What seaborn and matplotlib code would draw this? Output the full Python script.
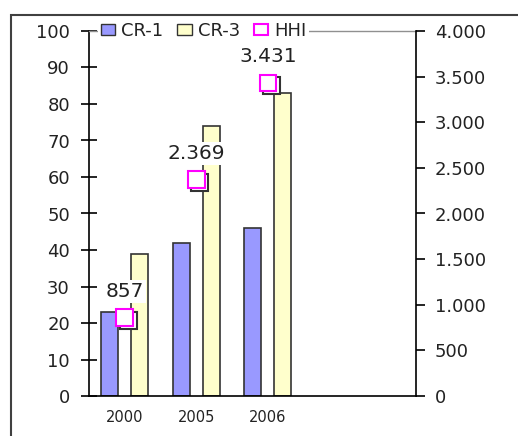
import numpy as np
import pandas as pd
import seaborn as sns
import matplotlib.pyplot as plt
from matplotlib.patches import Patch, Rectangle
import matplotlib.patheffects as pe

# values
years = ['2000', '2005', '2006']
cr1 = [23, 42, 46]
cr3 = [39, 74, 83]
hhi = [857, 2369, 3431]

def dot_thousands(v):
    return '{:,.0f}'.format(v).replace(',', '.')

sns.set_style('white')
plt.rcParams['font.family'] = ['DejaVu Sans']

bars = pd.DataFrame({
    'year': years * 2,
    'value': cr1 + cr3,
    'series': ['CR-1'] * 3 + ['CR-3'] * 3,
})
hhi_df = pd.DataFrame({'year': years, 'hhi': hhi})

fig = plt.figure(figsize=(5.18, 4.36), dpi=100)
ax = fig.add_axes([89 / 518, 40 / 436, 327 / 518, 365 / 436])

sns.barplot(data=bars, x='year', y='value', hue='series', order=years,
            palette=['#9999FF', '#FFFFCC'], width=0.84, gap=0.43,
            edgecolor='#333333', linewidth=1.2, saturation=1, ax=ax, legend=False)

ax2 = ax.twinx()
sns.pointplot(data=hhi_df, x='year', y='hhi', order=years, ax=ax2,
              color='#FF00FF', linestyle='none', marker='s', markersize=12,
              markerfacecolor='white', markeredgewidth=1.5, errorbar=None)
for ln in ax2.lines:
    ln.set_path_effects([pe.Stroke(offset=(2.5, -2), linewidth=1.5, foreground='#333333'),
                         pe.Normal()])
    ln.set_zorder(4)

for i, v in enumerate(hhi):
    ax2.annotate(dot_thousands(v), (i, v), xytext=(0, 19), textcoords='offset points',
                 ha='center', va='center', fontsize=14.5, color='#222222', zorder=5,
                 bbox=dict(fc='white', ec='none', pad=1.5))

# axes ranges and ticks
ax.set_xlim(-0.5, 4.07)
ax.set_ylim(0, 100)
ax.set_yticks(np.arange(0, 101, 10))
ax2.set_ylim(0, 4000)
ax2.set_yticks(np.arange(0, 4001, 500))
ax2.set_yticklabels([dot_thousands(v) for v in np.arange(0, 4001, 500)])
ax.set_xticks(range(len(years)))
ax.set_xticklabels(years)
ax.set_xticks([-0.5, 0.5, 1.5, 2.5, 4.07], minor=True)
ax.set_xlabel('')
ax.set_ylabel('')
ax2.set_ylabel('')
ax2.set_xlabel('')

ax.tick_params(axis='x', which='major', length=0, pad=10, labelsize=10.5, colors='#222222')
ax.tick_params(axis='x', which='minor', length=9, width=1.2, direction='inout', color='black')
ax.tick_params(axis='y', length=11.5, width=1.2, direction='inout', pad=8,
               labelsize=13, colors='black', labelcolor='#222222')
ax2.tick_params(axis='y', length=6.5, width=1.2, direction='out', pad=7,
                labelsize=13, colors='black', labelcolor='#222222')

for s in ['left', 'bottom']:
    ax.spines[s].set_color('black')
    ax.spines[s].set_linewidth(1.2)
ax.spines['top'].set_color('#909090')
ax.spines['top'].set_linewidth(1)
ax.spines['right'].set_visible(False)
for s in ['left', 'bottom', 'top']:
    ax2.spines[s].set_visible(False)
ax2.spines['right'].set_color('black')
ax2.spines['right'].set_linewidth(1.2)

handles = [
    Patch(fc='#9999FF', ec='#333333', lw=1),
    Patch(fc='#FFFFCC', ec='#333333', lw=1),
    Patch(fc='white', ec='#FF00FF', lw=1.5),
]
leg = ax2.legend(handles, ['CR-1', 'CR-3', 'HHI'], ncol=3, loc='center left',
                 bbox_to_anchor=(9 / 327, 1.0), frameon=True, fontsize=13,
                 handlelength=0.8, handleheight=0.5, handletextpad=0.35,
                 columnspacing=0.75, borderpad=0.15, borderaxespad=0)
leg.get_frame().set_facecolor('white')
leg.get_frame().set_edgecolor('none')
leg.get_frame().set_alpha(1)
leg.set_zorder(10)
for t in leg.get_texts():
    t.set_color('#222222')

# outer chart-area frame
fig.patches.append(Rectangle((11 / 518, -0.05), 1.0, 1.05 - 15 / 436,
                             transform=fig.transFigure, fill=False,
                             ec='#404040', lw=1.5))

fig.savefig('out.png', dpi=100)
